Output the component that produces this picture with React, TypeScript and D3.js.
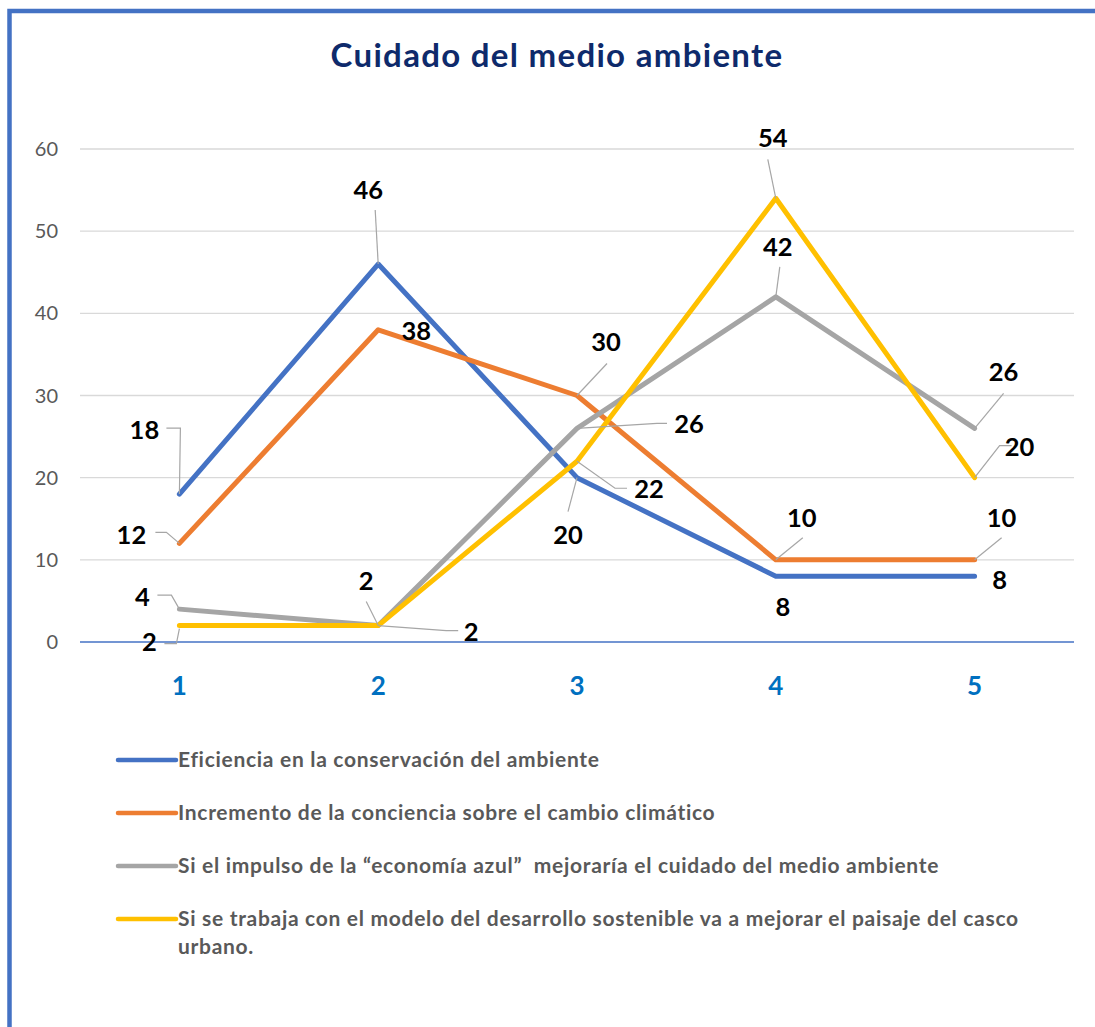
import React from 'react';
import * as d3 from 'd3';

const categories = ['1', '2', '3', '4', '5'];
const seriesNames = [
  'Eficiencia en la conservación del ambiente',
  'Incremento de la conciencia sobre el cambio climático',
  'Si el impulso de la \u201ceconomía azul\u201d  mejoraría el cuidado del medio ambiente',
  'Si se trabaja con el modelo del desarrollo sostenible va a mejorar el paisaje del casco|urbano.',
];
const eficiencia = [18, 46, 20, 8, 8];
const incremento = [12, 38, 30, 10, 10];
const economiaAzul = [4, 2, 26, 42, 26];
const desarrollo = [2, 2, 22, 54, 20];
const yTicks = [0, 10, 20, 30, 40, 50, 60];
const chartTitle = 'Cuidado del medio ambiente';

const seriesValues = [eficiencia, incremento, economiaAzul, desarrollo];
const colors = ['#4472C4', '#ED7D31', '#A5A5A5', '#FFC000'];

// label placement (text offset and leader line offsets, relative to each point)
type Lbl = { dx: number; dy: number; leader?: [number, number][] };
const labelLayout: Lbl[][] = [
  [
    { dx: -35, dy: -64, leader: [[-13, -66], [1, -66], [0, 0]] },
    { dx: -10, dy: -74, leader: [[-3, -54], [0, 0]] },
    { dx: -9, dy: 57, leader: [[-9, 34], [0, 0]] },
    { dx: 7, dy: 31 },
    { dx: 25, dy: 4 },
  ],
  [
    { dx: -48, dy: -8, leader: [[-24, -11], [-13, -11], [0, 0]] },
    { dx: 38, dy: 1 },
    { dx: 29, dy: -53, leader: [[30, -32], [0, 0]] },
    { dx: 26, dy: -42, leader: [[27, -22], [0, 0]] },
    { dx: 27, dy: -42, leader: [[27, -22], [0, 0]] },
  ],
  [
    { dx: -37, dy: -12, leader: [[-22, -14], [-8, -14], [0, 0]] },
    { dx: 93, dy: 7, leader: [[0, 0], [68, 5], [80, 5]] },
    { dx: 112, dy: -4, leader: [[90, -5], [80, -5], [0, 0]] },
    { dx: 2, dy: -50, leader: [[4, -30], [0, 0]] },
    { dx: 29, dy: -56, leader: [[29, -35], [0, 0]] },
  ],
  [
    { dx: -30, dy: 17, leader: [[-15, 18], [-3, 18], [0, 3]] },
    { dx: -12, dy: -44, leader: [[-12, -24], [0, 0]] },
    { dx: 72, dy: 28, leader: [[50, 27], [38, 27], [0, 0]] },
    { dx: -3, dy: -60, leader: [[-8, -39], [0, 0]] },
    { dx: 45, dy: -31, leader: [[37, -32], [25, -32], [0, 0]] },
  ],
];

const W = 1095;
const H = 1027;
const FONT = 'Lato, "Open Sans", sans-serif';

export default function App() {
  const x = d3.scalePoint<string>().domain(categories).range([80, 1074]).padding(0.5);
  const y = d3.scaleLinear().domain([0, 60]).range([642, 149]);
  const line = d3
    .line<number>()
    .x((_, i) => x(categories[i]) as number)
    .y((d) => y(d));

  const legendY = [760, 813, 866, 919];

  return (
    <svg
      width={W}
      height={H}
      style={{ position: 'absolute', left: 0, top: 0, background: '#fff' }}
      fontFamily={FONT}
    >
      <rect x={0} y={0} width={W} height={H} fill="#fff" />
      <rect x={9.5} y={11} width={3000} height={3000} fill="none" stroke="#4472C4" strokeWidth={4.5} />

      <text x={557} y={54} textAnchor="middle" dominantBaseline="central" fontSize={33} fontWeight={700} fill="#0E2A6B" letterSpacing={1.3}>
        {chartTitle}
      </text>

      {yTicks.map((t) => (
        <g key={t}>
          {t !== 0 && (
            <line x1={80} x2={1074} y1={y(t)} y2={y(t)} stroke="#D9D9D9" strokeWidth={1.3} />
          )}
          <text x={58} y={y(t)} dy="0.35em" textAnchor="end" fontSize={20} fill="#595959">
            {t}
          </text>
        </g>
      ))}
      <line x1={80} x2={1074} y1={y(0)} y2={y(0)} stroke="#4472C4" strokeWidth={1.6} />

      {categories.map((c) => (
        <text key={c} x={x(c)} y={686} dy="0.35em" textAnchor="middle" fontSize={26} fontWeight={700} fill="#0070C0">
          {c}
        </text>
      ))}

      {seriesValues.map((vals, si) => (
        <path
          key={si}
          d={line(vals) || ''}
          fill="none"
          stroke={colors[si]}
          strokeWidth={5}
          strokeLinejoin="round"
          strokeLinecap="round"
        />
      ))}

      {seriesValues.map((vals, si) =>
        vals.map((v, i) => {
          const px = x(categories[i]) as number;
          const py = y(v);
          const l = labelLayout[si][i];
          return (
            <g key={`${si}-${i}`}>
              {l.leader && (
                <polyline
                  points={l.leader.map(([a, b]) => `${px + a},${py + b}`).join(' ')}
                  fill="none"
                  stroke="#A6A6A6"
                  strokeWidth={1.2}
                />
              )}
              <text x={px + l.dx} y={py + l.dy} dy="0.35em" textAnchor="middle" fontSize={25.5} fontWeight={700} fill="#000">
                {v}
              </text>
            </g>
          );
        })
      )}

      {seriesNames.map((name, i) => {
        const lines = name.split('|');
        return (
          <g key={name}>
            <line x1={118} x2={176} y1={legendY[i]} y2={legendY[i]} stroke={colors[i]} strokeWidth={4.5} strokeLinecap="round" />
            {lines.map((ln, j) => (
              <text
                key={j}
                x={178}
                y={legendY[i] + j * 28}
                dy="0.35em"
                fontSize={21}
                fontWeight={700}
                fill="#595959"
                letterSpacing={0.7}
                style={{ whiteSpace: 'pre' }}
              >
                {ln}
              </text>
            ))}
          </g>
        );
      })}
    </svg>
  );
}
